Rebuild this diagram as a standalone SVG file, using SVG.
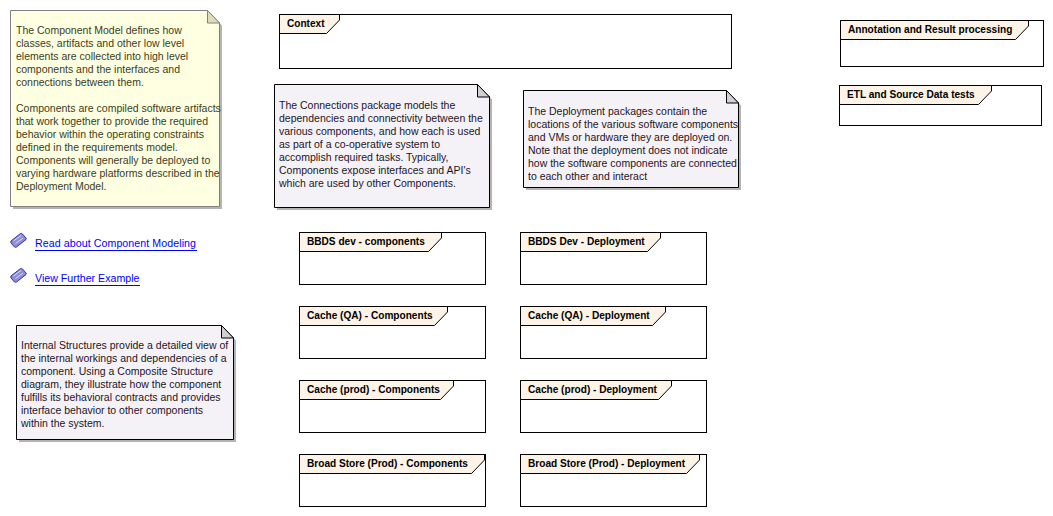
<svg xmlns="http://www.w3.org/2000/svg" width="1053" height="516" viewBox="0 0 1053 516">
<style>
text{font-family:"Liberation Sans",Arial,sans-serif;font-size:10.500px}
.frame{fill:#fff;stroke:#000;stroke-width:1}
.tab{fill:#fdf3e7;stroke:#000;stroke-width:1}
.title{font-weight:bold;fill:#000;font-size:10.100px}
.shadow{fill:#b4b4b4}
.noteY{fill:#ffffe1;stroke:#808080}
.foldY{fill:#dcdcbe;stroke:#808080}
.noteP{fill:#f5f2f7;stroke:#000}
.foldP{fill:#d2d0d4;stroke:#000}
.txtY{fill:#3c3c1e}
.txtP{fill:#1e141e}
.link{fill:#0000ff;font-size:10.650px}
.ul{stroke:#0000ff;stroke-width:1}
</style>
<defs>
<g id="gem">
<path d="M0.500 8L10 0.500Q11 0 12 1L15.500 5Q16 6 15.500 6.500L6 14Q5 14.500 4 14L0.500 10Q0 9 0.500 8Z" fill="#8f8fd0" stroke="#3030c0"/>
<path d="M3 8L10.500 2.500M5 10.500L12.500 5" stroke="#d8d8f4" fill="none"/>
</g>
</defs>

<g id="note-component-model">
<path class="shadow" d="M13 13H210L222 25.500V209H13Z"/>
<path class="noteY" d="M10.500 10.500H207.500L219.500 23V206.500H10.500Z"/>
<path class="foldY" d="M207.500 10.500L219.500 23H207.500Z"/>
<text class="txtY" x="16" y="34">The Component Model defines how</text>
<text class="txtY" x="16" y="47">classes, artifacts and other low level</text>
<text class="txtY" x="16" y="60">elements are collected into high level</text>
<text class="txtY" x="16" y="73">components and the interfaces and</text>
<text class="txtY" x="16" y="86">connections between them.</text>
<text class="txtY" x="16" y="112">Components are compiled software artifacts</text>
<text class="txtY" x="16" y="125">that work together to provide the required</text>
<text class="txtY" x="16" y="138">behavior within the operating constraints</text>
<text class="txtY" x="16" y="151">defined in the requirements model.</text>
<text class="txtY" x="16" y="164">Components will generally be deployed to</text>
<text class="txtY" x="16" y="177">varying hardware platforms described in the</text>
<text class="txtY" x="16" y="190">Deployment Model.</text>
</g>

<g id="link-component-modeling">
<use href="#gem" x="10.500" y="233"/>
<text class="link" x="35" y="247" textLength="161">Read about Component Modeling</text>
<path class="ul" d="M35 250.500H197"/>
</g>
<g id="link-further-example">
<use href="#gem" x="10.500" y="268"/>
<text class="link" x="35" y="282">View Further Example</text>
<path class="ul" d="M35 285.500H140"/>
</g>

<g id="note-internal-structures">
<path class="shadow" d="M19 328H224L236 340.500V442H19Z"/>
<path class="noteP" d="M16.500 325.500H221.500L233.500 338V439.500H16.500Z"/>
<path class="foldP" d="M221.500 325.500L233.500 338H221.500Z"/>
<text class="txtP" x="21" y="349">Internal Structures provide a detailed view of</text>
<text class="txtP" x="21" y="362">the internal workings and dependencies of a</text>
<text class="txtP" x="21" y="375">component. Using a Composite Structure</text>
<text class="txtP" x="21" y="388">diagram, they illustrate how the component</text>
<text class="txtP" x="21" y="401">fulfills its behavioral contracts and provides</text>
<text class="txtP" x="21" y="414">interface behavior to other components</text>
<text class="txtP" x="21" y="427">within the system.</text>
</g>

<g id="note-connections">
<path class="shadow" d="M277 87H480L492 99.500V210H277Z"/>
<path class="noteP" d="M274.500 84.500H477.500L489.500 97V207.500H274.500Z"/>
<path class="foldP" d="M477.500 84.500L489.500 97H477.500Z"/>
<text class="txtP" x="279" y="109">The Connections package models the</text>
<text class="txtP" x="279" y="122">dependencies and connectivity between the</text>
<text class="txtP" x="279" y="135">various components, and how each is used</text>
<text class="txtP" x="279" y="148">as part of a co-operative system to</text>
<text class="txtP" x="279" y="161">accomplish required tasks. Typically,</text>
<text class="txtP" x="279" y="174">Components expose interfaces and API's</text>
<text class="txtP" x="279" y="187">which are used by other Components.</text>
</g>

<g id="note-deployment">
<path class="shadow" d="M526 93H729L741 105.500V190H526Z"/>
<path class="noteP" d="M523.500 90.500H726.500L738.500 103V187.500H523.500Z"/>
<path class="foldP" d="M726.500 90.500L738.500 103H726.500Z"/>
<text class="txtP" x="528" y="115">The Deployment packages contain the</text>
<text class="txtP" x="528" y="128">locations of the various software components</text>
<text class="txtP" x="528" y="141">and VMs or hardware they are deployed on.</text>
<text class="txtP" x="528" y="154">Note that the deployment does not indicate</text>
<text class="txtP" x="528" y="167">how the software components are connected</text>
<text class="txtP" x="528" y="180">to each other and interact</text>
</g>

<g id="pkg-context">
<rect class="frame" x="279.500" y="14.500" width="452" height="54"/>
<path class="tab" d="M279.500 14.500H339.500V20L326.500 33.500H279.500Z"/>
<text class="title" x="287" y="27">Context</text>
</g>
<g id="pkg-annotation">
<rect class="frame" x="840.500" y="20.500" width="203" height="46"/>
<path class="tab" d="M840.500 20.500H1028.500V26L1015.500 39.500H840.500Z"/>
<text class="title" x="848" y="33">Annotation and Result processing</text>
</g>
<g id="pkg-etl">
<rect class="frame" x="839.500" y="85.500" width="202" height="40"/>
<path class="tab" d="M839.500 85.500H991.500V91L978.500 104.500H839.500Z"/>
<text class="title" x="847" y="98">ETL and Source Data tests</text>
</g>

<g id="pkg-bbds-components">
<rect class="frame" x="299.500" y="232.500" width="186" height="52"/>
<path class="tab" d="M299.500 232.500H441.500V238L428.500 251.500H299.500Z"/>
<text class="title" x="307" y="245">BBDS dev - components</text>
</g>
<g id="pkg-cache-qa-components">
<rect class="frame" x="299.500" y="306.500" width="186" height="52"/>
<path class="tab" d="M299.500 306.500H447.500V312L434.500 325.500H299.500Z"/>
<text class="title" x="307" y="319">Cache (QA) - Components</text>
</g>
<g id="pkg-cache-prod-components">
<rect class="frame" x="299.500" y="380.500" width="186" height="52"/>
<path class="tab" d="M299.500 380.500H453.500V386L440.500 399.500H299.500Z"/>
<text class="title" x="307" y="393">Cache (prod) - Components</text>
</g>
<g id="pkg-broad-components">
<rect class="frame" x="299.500" y="454.500" width="186" height="52"/>
<path class="tab" d="M299.500 454.500H484.500V460L471.500 473.500H299.500Z"/>
<text class="title" x="307" y="467">Broad Store (Prod) - Components</text>
</g>

<g id="pkg-bbds-deployment">
<rect class="frame" x="520.500" y="232.500" width="186" height="52"/>
<path class="tab" d="M520.500 232.500H660.500V238L647.500 251.500H520.500Z"/>
<text class="title" x="528" y="245">BBDS Dev - Deployment</text>
</g>
<g id="pkg-cache-qa-deployment">
<rect class="frame" x="520.500" y="306.500" width="186" height="52"/>
<path class="tab" d="M520.500 306.500H665.500V312L652.500 325.500H520.500Z"/>
<text class="title" x="528" y="319">Cache (QA) - Deployment</text>
</g>
<g id="pkg-cache-prod-deployment">
<rect class="frame" x="520.500" y="380.500" width="186" height="52"/>
<path class="tab" d="M520.500 380.500H671.500V386L658.500 399.500H520.500Z"/>
<text class="title" x="528" y="393">Cache (prod) - Deployment</text>
</g>
<g id="pkg-broad-deployment">
<rect class="frame" x="520.500" y="454.500" width="186" height="52"/>
<path class="tab" d="M520.500 454.500H699.500V460L686.500 473.500H520.500Z"/>
<text class="title" x="528" y="467">Broad Store (Prod) - Deployment</text>
</g>

<g id="connectors"></g>
</svg>
